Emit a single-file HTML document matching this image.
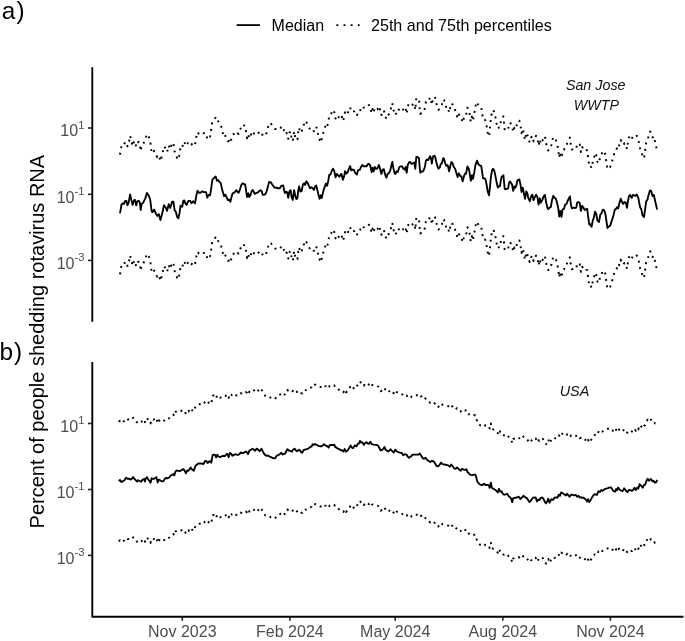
<!DOCTYPE html>
<html lang="en"><head><meta charset="utf-8"><title>Percent of people shedding rotavirus RNA</title>
<style>
html,body{margin:0;padding:0;background:#fff;}
body{width:685px;height:641px;overflow:hidden;}
svg{display:block;font-family:"Liberation Sans", Arial, Helvetica, sans-serif;}
.med{fill:none;stroke:#000;stroke-width:1.85;stroke-linejoin:round;stroke-linecap:butt;}
.pct{fill:none;stroke:#000;stroke-width:1.95;stroke-linejoin:round;stroke-linecap:butt;}
</style></head><body>
<svg width="685" height="641" viewBox="0 0 685 641">
<rect width="685" height="641" fill="#fff"/>
<!-- panel tags -->
<text x="1.8" y="19.1" font-size="24.4" fill="#000">a<tspan dx="1.2">)</tspan></text>
<text x="-0.5" y="359.8" font-size="24.4" fill="#000">b<tspan dx="0.8">)</tspan></text>
<!-- legend -->
<line x1="236.7" y1="25.1" x2="259.9" y2="25.1" stroke="#000" stroke-width="1.8"/>
<text x="271.6" y="30.8" font-size="16" fill="#000">Median</text>
<line x1="336.4" y1="25.1" x2="359.6" y2="25.1" stroke="#000" stroke-width="1.95" stroke-dasharray="1.9 5.25"/>
<text x="371" y="30.8" font-size="16.1" fill="#000">25th and 75th percentiles</text>
<!-- y label -->
<text transform="translate(44.3,528.4) rotate(-90)" font-size="20" fill="#000">Percent of people shedding rotavirus RNA</text>
<!-- panel a axes -->
<line x1="92.3" y1="67.2" x2="92.3" y2="321.8" stroke="#000" stroke-width="1.85"/>
<line x1="88" y1="128.0" x2="92.3" y2="128.0" stroke="#222" stroke-width="1.6"/>
<text x="84.4" y="136.4" text-anchor="end" font-size="16" fill="#4d4d4d">10<tspan font-size="11.2" dy="-7.9">1</tspan></text>
<line x1="88" y1="194.3" x2="92.3" y2="194.3" stroke="#222" stroke-width="1.6"/>
<text x="84.4" y="202.7" text-anchor="end" font-size="16" fill="#4d4d4d">10<tspan font-size="11.2" dy="-7.9">-1</tspan></text>
<line x1="88" y1="260.4" x2="92.3" y2="260.4" stroke="#222" stroke-width="1.6"/>
<text x="84.4" y="268.8" text-anchor="end" font-size="16" fill="#4d4d4d">10<tspan font-size="11.2" dy="-7.9">-3</tspan></text>

<text x="595.7" y="89.8" text-anchor="middle" font-size="14.3" font-style="italic" fill="#111">San Jose</text>
<text x="596.3" y="110.4" text-anchor="middle" font-size="14.3" font-style="italic" fill="#111">WWTP</text>
<path class="pct" stroke-dasharray="1.9 4.6" d="M120.0,154.6 L121.5,145.8 L123.2,144.5 L124.0,145.1 L125.0,142.4 L126.3,142.0 L127.5,146.4 L128.6,143.9 L130.1,135.7 L131.3,140.8 L132.6,146.1 L134.1,141.4 L135.1,141.1 L136.1,146.6 L137.3,142.6 L138.8,142.0 L139.9,143.9 L140.7,151.2 L141.6,145.4 L143.2,143.9 L145.1,140.1 L147.0,134.1 L148.7,136.6 L150.2,140.8 L151.7,152.9 L152.7,153.3 L154.2,150.8 L155.8,154.6 L157.4,157.1 L158.9,155.4 L160.4,161.2 L162.1,155.2 L164.0,146.4 L165.8,148.9 L167.1,152.1 L168.7,145.4 L170.2,149.2 L172.1,142.9 L173.4,142.9 L174.6,151.4 L175.9,153.3 L177.2,158.3 L178.4,159.6 L179.7,153.3 L180.5,147.0 L182.2,147.9 L183.4,142.0 L184.3,141.6 L185.3,144.5 L186.6,146.1 L188.4,142.0 L190.1,142.0 L191.6,144.5 L193.1,142.4 L195.0,144.6 L196.3,137.0 L197.5,132.0 L199.0,133.9 L200.7,133.9 L202.3,132.4 L203.8,133.3 L206.1,133.3 L207.3,138.9 L208.6,136.1 L210.1,136.6 L211.3,128.9 L212.3,121.3 L213.8,119.1 L215.7,117.8 L217.0,122.0 L218.2,121.3 L219.5,123.2 L220.7,124.1 L222.0,130.1 L223.2,134.5 L224.1,137.4 L225.4,135.8 L226.6,138.3 L227.9,141.2 L229.2,140.8 L230.4,142.9 L231.7,137.6 L232.7,134.5 L234.6,133.6 L236.4,131.4 L237.7,133.3 L238.7,133.9 L239.9,130.8 L241.2,126.4 L242.5,124.5 L244.0,125.4 L245.2,125.7 L246.2,132.6 L247.1,138.3 L248.4,134.5 L249.2,138.3 L250.5,136.4 L251.5,132.6 L252.8,131.1 L253.8,133.3 L254.6,135.1 L256.5,134.1 L258.0,133.6 L259.3,132.0 L260.9,131.4 L261.8,132.6 L262.8,136.1 L264.7,135.8 L265.9,134.5 L267.2,130.8 L268.1,127.0 L269.1,123.2 L271.0,123.6 L272.2,125.7 L273.8,127.9 L275.0,128.9 L276.9,128.9 L278.1,129.5 L279.8,129.5 L281.3,127.0 L283.2,126.6 L284.0,130.8 L284.8,134.2 L286.3,132.9 L287.3,133.7 L288.2,138.9 L289.4,132.7 L290.7,131.4 L291.6,138.3 L292.8,141.2 L294.1,131.4 L295.1,136.4 L296.3,140.2 L297.4,139.6 L298.2,132.1 L299.1,127.6 L300.4,132.7 L301.6,132.4 L302.9,125.8 L304.1,124.5 L305.1,126.1 L306.4,122.4 L307.9,124.5 L309.1,127.6 L310.1,129.5 L311.4,128.3 L312.7,129.5 L313.9,131.2 L315.2,127.6 L316.2,126.6 L317.1,130.2 L318.3,135.2 L319.6,140.0 L320.8,136.4 L321.7,139.2 L322.7,135.2 L323.7,130.8 L324.6,128.3 L325.9,124.9 L327.1,127.0 L328.4,121.4 L329.2,116.1 L330.5,115.7 L331.8,112.0 L333.0,109.8 L334.3,112.3 L335.5,118.6 L336.8,115.1 L338.0,116.4 L339.3,117.9 L340.5,116.1 L341.5,115.1 L342.8,121.1 L344.1,117.6 L345.1,112.3 L346.3,114.9 L347.6,113.6 L348.8,110.3 L350.1,107.3 L351.3,111.6 L352.8,110.7 L354.1,111.3 L355.0,113.9 L356.9,115.8 L358.1,111.4 L359.8,111.1 L361.0,108.2 L362.3,106.1 L363.5,107.6 L365.0,107.4 L366.6,107.6 L367.8,105.4 L369.1,105.1 L370.3,107.0 L371.6,113.3 L372.6,108.9 L373.6,112.6 L374.8,108.2 L376.1,110.1 L377.4,109.5 L378.9,106.1 L380.1,110.1 L381.4,115.1 L382.6,110.8 L383.9,110.4 L385.1,115.8 L386.4,118.9 L387.6,115.1 L389.1,114.1 L390.4,111.1 L391.4,106.4 L392.3,103.2 L393.3,108.9 L394.6,114.5 L395.4,115.1 L396.4,112.6 L397.7,113.3 L399.2,108.6 L400.4,107.6 L402.1,107.6 L403.3,109.9 L404.6,110.8 L405.6,108.2 L406.7,113.9 L407.7,106.4 L409.0,103.6 L410.2,103.2 L411.5,105.1 L413.0,104.5 L414.3,103.6 L415.3,110.1 L416.3,98.2 L417.5,98.2 L419.0,99.5 L419.7,108.9 L420.3,113.9 L421.8,112.6 L423.1,112.6 L424.7,108.9 L425.9,102.0 L426.8,100.7 L428.1,101.3 L429.1,99.5 L430.1,97.3 L431.0,99.5 L431.8,104.9 L433.1,97.6 L434.4,96.9 L435.0,97.5 L436.3,103.2 L437.5,107.6 L438.5,109.9 L439.8,108.6 L440.6,105.7 L441.9,104.5 L443.2,99.4 L444.0,100.0 L445.0,103.8 L446.1,107.0 L447.6,106.3 L448.2,108.2 L449.1,112.6 L450.1,108.2 L451.3,103.2 L452.6,104.5 L453.8,108.2 L455.1,109.9 L456.3,113.9 L457.6,118.3 L458.9,114.5 L460.1,117.0 L461.4,117.6 L462.6,122.6 L463.9,117.6 L464.9,114.9 L466.1,114.9 L467.4,107.6 L468.6,109.5 L469.5,113.2 L470.8,122.0 L472.0,116.4 L473.0,120.1 L474.2,113.9 L475.4,106.3 L477.1,101.9 L478.3,105.3 L479.6,106.6 L481.2,107.0 L482.1,112.6 L483.0,119.5 L484.6,119.5 L485.6,120.8 L486.7,126.4 L487.7,132.7 L489.0,136.5 L490.0,127.7 L490.9,118.3 L492.1,111.4 L493.0,109.9 L494.3,112.0 L495.5,117.6 L496.8,124.5 L497.8,128.7 L499.0,127.4 L500.0,127.4 L500.9,121.4 L501.5,118.3 L503.4,116.4 L504.1,123.9 L504.7,130.2 L506.6,130.2 L508.1,129.6 L509.1,123.9 L510.1,122.6 L511.3,124.5 L512.2,126.2 L513.1,132.1 L514.4,127.7 L515.0,129.1 L516.3,127.0 L517.5,121.3 L519.4,120.7 L520.6,126.3 L521.5,133.2 L522.8,128.8 L523.8,133.9 L525.0,140.1 L526.3,132.6 L527.3,134.5 L528.2,138.9 L529.8,142.4 L531.1,137.6 L532.3,135.8 L533.6,141.4 L534.8,138.3 L536.1,135.8 L537.4,138.3 L538.6,145.8 L539.9,139.5 L540.7,143.9 L542.4,140.8 L543.6,137.6 L544.9,136.1 L546.1,143.3 L547.4,148.9 L548.3,150.4 L549.5,148.9 L550.8,148.3 L552.0,141.4 L553.3,137.0 L554.5,138.9 L555.8,139.9 L557.1,143.9 L558.3,149.6 L559.2,157.7 L560.2,152.1 L561.5,158.0 L562.5,150.8 L564.0,149.9 L565.2,145.8 L566.5,145.2 L567.7,142.0 L569.0,139.5 L570.0,137.6 L570.9,145.8 L571.8,149.6 L573.4,148.9 L574.6,149.2 L576.3,148.9 L577.1,143.9 L578.4,143.3 L579.7,144.2 L580.9,152.1 L582.2,147.1 L583.4,148.7 L584.7,151.2 L585.9,150.4 L587.2,150.2 L588.1,157.7 L589.3,165.9 L590.3,165.2 L591.6,168.0 L592.8,161.5 L593.8,159.0 L595.0,152.9 L596.3,155.2 L597.5,162.1 L599.0,163.3 L600.3,155.8 L601.5,154.5 L602.8,150.8 L604.0,151.4 L605.3,154.5 L606.3,161.4 L607.5,169.2 L608.8,167.7 L610.1,167.1 L611.3,163.3 L612.6,159.6 L613.8,155.2 L614.8,150.8 L616.1,150.1 L617.0,148.3 L618.2,149.5 L619.5,143.9 L620.7,139.9 L622.0,143.2 L623.2,145.1 L624.5,143.2 L625.8,143.9 L627.0,149.1 L627.9,142.6 L628.9,137.6 L630.1,136.1 L631.7,139.1 L632.9,136.1 L634.2,136.6 L635.4,137.0 L636.7,135.7 L638.3,138.8 L639.2,143.9 L640.2,148.9 L641.2,149.9 L642.5,156.4 L644.0,158.3 L645.0,151.4 L646.2,142.6 L647.5,140.7 L648.7,135.7 L650.0,131.6 L651.2,132.3 L652.5,137.3 L653.8,136.1 L655.0,141.4 L657.1,150.8"/>
<path class="med" d="M120.0,213.4 L121.5,204.6 L123.2,203.3 L124.0,203.9 L125.0,201.2 L126.3,200.8 L127.5,205.2 L128.6,202.7 L130.1,194.5 L131.3,199.6 L132.6,204.9 L134.1,200.2 L135.1,199.9 L136.1,205.4 L137.3,201.4 L138.8,200.8 L139.9,202.7 L140.7,210.0 L141.6,204.2 L143.2,202.7 L145.1,198.9 L147.0,192.9 L148.7,195.4 L150.2,199.6 L151.7,211.7 L152.7,212.1 L154.2,209.6 L155.8,213.4 L157.4,215.9 L158.9,214.2 L160.4,220.0 L162.1,214.0 L164.0,205.2 L165.8,207.7 L167.1,210.8 L168.7,204.2 L170.2,208.0 L172.1,201.7 L173.4,201.7 L174.6,210.2 L175.9,212.1 L177.2,217.1 L178.4,218.4 L179.7,212.1 L180.5,205.8 L182.2,206.7 L183.4,200.8 L184.3,200.4 L185.3,203.3 L186.6,204.9 L188.4,200.8 L190.1,200.8 L191.6,203.3 L193.1,201.2 L195.0,203.4 L196.3,195.8 L197.5,190.8 L199.0,192.7 L200.7,192.7 L202.3,191.2 L203.8,192.1 L206.1,192.1 L207.3,197.7 L208.6,194.9 L210.1,195.4 L211.3,187.7 L212.3,180.1 L213.8,177.9 L215.7,176.6 L217.0,180.8 L218.2,180.1 L219.5,182.0 L220.7,182.9 L222.0,188.9 L223.2,193.3 L224.1,196.2 L225.4,194.6 L226.6,197.1 L227.9,200.0 L229.2,199.6 L230.4,201.7 L231.7,196.4 L232.7,193.3 L234.6,192.4 L236.4,190.2 L237.7,192.1 L238.7,192.7 L239.9,189.6 L241.2,185.2 L242.5,183.3 L244.0,184.2 L245.2,184.5 L246.2,191.4 L247.1,197.1 L248.4,193.3 L249.2,197.1 L250.5,195.2 L251.5,191.4 L252.8,189.9 L253.8,192.1 L254.6,193.9 L256.5,192.9 L258.0,192.4 L259.3,190.8 L260.9,190.2 L261.8,191.4 L262.8,194.9 L264.7,194.6 L265.9,193.3 L267.2,189.6 L268.1,185.8 L269.1,182.0 L271.0,182.4 L272.2,184.5 L273.8,186.7 L275.0,187.7 L276.9,187.7 L278.1,188.3 L279.8,188.3 L281.3,185.8 L283.2,185.4 L284.0,189.6 L284.8,193.0 L286.3,191.7 L287.3,192.5 L288.2,197.8 L289.4,191.5 L290.7,190.2 L291.6,197.1 L292.8,200.0 L294.1,190.2 L295.1,195.2 L296.3,199.0 L297.4,198.4 L298.2,190.8 L299.1,186.4 L300.4,191.5 L301.6,191.2 L302.9,184.6 L304.1,183.3 L305.1,184.9 L306.4,181.2 L307.9,183.3 L309.1,186.4 L310.1,188.3 L311.4,187.1 L312.7,188.3 L313.9,190.0 L315.2,186.4 L316.2,185.4 L317.1,189.0 L318.3,194.0 L319.6,198.8 L320.8,195.2 L321.7,198.0 L322.7,194.0 L323.7,189.6 L324.6,187.1 L325.9,183.7 L327.1,185.8 L328.4,180.2 L329.2,174.9 L330.5,174.5 L331.8,170.8 L333.0,168.6 L334.3,171.1 L335.5,177.4 L336.8,173.9 L338.0,175.2 L339.3,176.7 L340.5,174.9 L341.5,173.9 L342.8,179.9 L344.1,176.4 L345.1,171.1 L346.3,173.7 L347.6,172.4 L348.8,169.1 L350.1,166.1 L351.3,170.4 L352.8,169.5 L354.1,170.1 L355.0,172.7 L356.9,174.6 L358.1,170.2 L359.8,169.9 L361.0,167.0 L362.3,164.9 L363.5,166.4 L365.0,166.2 L366.6,166.4 L367.8,164.2 L369.1,163.9 L370.3,165.8 L371.6,172.1 L372.6,167.7 L373.6,171.4 L374.8,167.0 L376.1,168.9 L377.4,168.3 L378.9,164.9 L380.1,168.9 L381.4,173.9 L382.6,169.6 L383.9,169.2 L385.1,174.6 L386.4,177.7 L387.6,173.9 L389.1,172.9 L390.4,169.9 L391.4,165.2 L392.3,162.0 L393.3,167.7 L394.6,173.3 L395.4,173.9 L396.4,171.4 L397.7,172.1 L399.2,167.4 L400.4,166.4 L402.1,166.4 L403.3,168.7 L404.6,169.6 L405.6,167.0 L406.7,172.7 L407.7,165.2 L409.0,162.4 L410.2,162.0 L411.5,163.9 L413.0,163.3 L414.3,162.4 L415.3,168.9 L416.3,157.0 L417.5,157.0 L419.0,158.2 L419.7,167.7 L420.3,172.7 L421.8,171.4 L423.1,171.4 L424.7,167.7 L425.9,160.8 L426.8,159.5 L428.1,160.1 L429.1,158.2 L430.1,156.1 L431.0,158.2 L431.8,163.7 L433.1,156.4 L434.4,155.7 L435.0,156.3 L436.3,162.0 L437.5,166.4 L438.5,168.7 L439.8,167.4 L440.6,164.5 L441.9,163.2 L443.2,158.2 L444.0,158.8 L445.0,162.6 L446.1,165.8 L447.6,165.1 L448.2,167.0 L449.1,171.4 L450.1,167.0 L451.3,162.0 L452.6,163.2 L453.8,167.0 L455.1,168.7 L456.3,172.7 L457.6,177.1 L458.9,173.3 L460.1,175.8 L461.4,176.4 L462.6,181.4 L463.9,176.4 L464.9,173.7 L466.1,173.7 L467.4,166.4 L468.6,168.3 L469.5,172.0 L470.8,180.8 L472.0,175.2 L473.0,178.9 L474.2,172.7 L475.4,165.1 L477.1,160.7 L478.3,164.1 L479.6,165.4 L481.2,165.8 L482.1,171.4 L483.0,178.3 L484.6,178.3 L485.6,179.6 L486.7,185.2 L487.7,191.5 L489.0,195.3 L490.0,186.5 L490.9,177.1 L492.1,170.2 L493.0,168.7 L494.3,170.8 L495.5,176.4 L496.8,183.3 L497.8,187.5 L499.0,186.2 L500.0,186.2 L500.9,180.2 L501.5,177.1 L503.4,175.2 L504.1,182.7 L504.7,189.0 L506.6,189.0 L508.1,188.4 L509.1,182.7 L510.1,181.4 L511.3,183.3 L512.2,185.0 L513.1,190.9 L514.4,186.5 L515.0,187.9 L516.3,185.8 L517.5,180.1 L519.4,179.5 L520.6,185.1 L521.5,192.0 L522.8,187.6 L523.8,192.7 L525.0,198.9 L526.3,191.4 L527.3,193.3 L528.2,197.7 L529.8,201.2 L531.1,196.4 L532.3,194.6 L533.6,200.2 L534.8,197.1 L536.1,194.6 L537.4,197.1 L538.6,204.6 L539.9,198.3 L540.7,202.7 L542.4,199.6 L543.6,196.4 L544.9,194.9 L546.1,202.1 L547.4,207.7 L548.3,209.2 L549.5,207.7 L550.8,207.1 L552.0,200.2 L553.3,195.8 L554.5,197.7 L555.8,198.7 L557.1,202.7 L558.3,208.4 L559.2,216.5 L560.2,210.9 L561.5,216.8 L562.5,209.6 L564.0,208.7 L565.2,204.6 L566.5,204.0 L567.7,200.8 L569.0,198.3 L570.0,196.4 L570.9,204.6 L571.8,208.4 L573.4,207.7 L574.6,208.0 L576.3,207.7 L577.1,202.7 L578.4,202.1 L579.7,203.0 L580.9,210.9 L582.2,205.8 L583.4,207.5 L584.7,210.0 L585.9,209.2 L587.2,209.0 L588.1,216.5 L589.3,224.7 L590.3,224.1 L591.6,226.8 L592.8,220.3 L593.8,217.8 L595.0,211.7 L596.3,214.0 L597.5,220.9 L599.0,222.1 L600.3,214.6 L601.5,213.3 L602.8,209.6 L604.0,210.2 L605.3,213.3 L606.3,220.2 L607.5,228.0 L608.8,226.5 L610.1,225.9 L611.3,222.1 L612.6,218.4 L613.8,214.0 L614.8,209.6 L616.1,208.9 L617.0,207.1 L618.2,208.3 L619.5,202.7 L620.7,198.7 L622.0,202.0 L623.2,203.9 L624.5,202.0 L625.8,202.7 L627.0,207.9 L627.9,201.4 L628.9,196.4 L630.1,194.9 L631.7,197.9 L632.9,194.9 L634.2,195.4 L635.4,195.8 L636.7,194.5 L638.3,197.6 L639.2,202.7 L640.2,207.7 L641.2,208.7 L642.5,215.2 L644.0,217.1 L645.0,210.2 L646.2,201.4 L647.5,199.5 L648.7,194.5 L650.0,190.4 L651.2,191.1 L652.5,196.1 L653.8,194.9 L655.0,200.2 L657.1,209.6"/>
<path class="pct" stroke-dasharray="1.9 4.6" d="M120.0,274.3 L121.5,265.5 L123.2,264.2 L124.0,264.8 L125.0,262.1 L126.3,261.7 L127.5,266.1 L128.6,263.6 L130.1,255.4 L131.3,260.4 L132.6,265.8 L134.1,261.1 L135.1,260.8 L136.1,266.3 L137.3,262.3 L138.8,261.7 L139.9,263.6 L140.7,270.9 L141.6,265.1 L143.2,263.6 L145.1,259.8 L147.0,253.8 L148.7,256.3 L150.2,260.4 L151.7,272.6 L152.7,273.0 L154.2,270.5 L155.8,274.3 L157.4,276.8 L158.9,275.1 L160.4,280.9 L162.1,274.9 L164.0,266.1 L165.8,268.6 L167.1,271.8 L168.7,265.1 L170.2,268.9 L172.1,262.6 L173.4,262.6 L174.6,271.1 L175.9,273.0 L177.2,278.0 L178.4,279.3 L179.7,273.0 L180.5,266.7 L182.2,267.6 L183.4,261.7 L184.3,261.3 L185.3,264.2 L186.6,265.8 L188.4,261.7 L190.1,261.7 L191.6,264.2 L193.1,262.1 L195.0,264.3 L196.3,256.7 L197.5,251.7 L199.0,253.6 L200.7,253.6 L202.3,252.1 L203.8,253.0 L206.1,253.0 L207.3,258.6 L208.6,255.8 L210.1,256.3 L211.3,248.6 L212.3,241.0 L213.8,238.8 L215.7,237.5 L217.0,241.7 L218.2,241.0 L219.5,242.9 L220.7,243.8 L222.0,249.8 L223.2,254.2 L224.1,257.1 L225.4,255.5 L226.6,258.0 L227.9,260.9 L229.2,260.5 L230.4,262.6 L231.7,257.3 L232.7,254.2 L234.6,253.3 L236.4,251.1 L237.7,253.0 L238.7,253.6 L239.9,250.5 L241.2,246.1 L242.5,244.2 L244.0,245.1 L245.2,245.4 L246.2,252.3 L247.1,258.0 L248.4,254.2 L249.2,258.0 L250.5,256.1 L251.5,252.3 L252.8,250.8 L253.8,253.0 L254.6,254.8 L256.5,253.8 L258.0,253.3 L259.3,251.7 L260.9,251.1 L261.8,252.3 L262.8,255.8 L264.7,255.5 L265.9,254.2 L267.2,250.5 L268.1,246.7 L269.1,242.9 L271.0,243.3 L272.2,245.4 L273.8,247.6 L275.0,248.6 L276.9,248.6 L278.1,249.2 L279.8,249.2 L281.3,246.7 L283.2,246.3 L284.0,250.5 L284.8,253.9 L286.3,252.6 L287.3,253.4 L288.2,258.6 L289.4,252.4 L290.7,251.1 L291.6,258.0 L292.8,260.9 L294.1,251.1 L295.1,256.1 L296.3,259.9 L297.4,259.3 L298.2,251.8 L299.1,247.3 L300.4,252.4 L301.6,252.1 L302.9,245.5 L304.1,244.2 L305.1,245.8 L306.4,242.1 L307.9,244.2 L309.1,247.3 L310.1,249.2 L311.4,248.0 L312.7,249.2 L313.9,250.9 L315.2,247.3 L316.2,246.3 L317.1,249.9 L318.3,254.9 L319.6,259.7 L320.8,256.1 L321.7,258.9 L322.7,254.9 L323.7,250.5 L324.6,248.0 L325.9,244.6 L327.1,246.7 L328.4,241.1 L329.2,235.8 L330.5,235.4 L331.8,231.7 L333.0,229.5 L334.3,232.0 L335.5,238.3 L336.8,234.8 L338.0,236.1 L339.3,237.6 L340.5,235.8 L341.5,234.8 L342.8,240.8 L344.1,237.3 L345.1,232.0 L346.3,234.6 L347.6,233.3 L348.8,230.0 L350.1,227.0 L351.3,231.3 L352.8,230.4 L354.1,231.0 L355.0,233.6 L356.9,235.5 L358.1,231.1 L359.8,230.8 L361.0,227.9 L362.3,225.8 L363.5,227.3 L365.0,227.1 L366.6,227.3 L367.8,225.1 L369.1,224.8 L370.3,226.7 L371.6,233.0 L372.6,228.6 L373.6,232.3 L374.8,227.9 L376.1,229.8 L377.4,229.2 L378.9,225.8 L380.1,229.8 L381.4,234.8 L382.6,230.5 L383.9,230.1 L385.1,235.5 L386.4,238.6 L387.6,234.8 L389.1,233.8 L390.4,230.8 L391.4,226.1 L392.3,222.9 L393.3,228.6 L394.6,234.2 L395.4,234.8 L396.4,232.3 L397.7,233.0 L399.2,228.3 L400.4,227.3 L402.1,227.3 L403.3,229.6 L404.6,230.5 L405.6,227.9 L406.7,233.6 L407.7,226.1 L409.0,223.3 L410.2,222.9 L411.5,224.8 L413.0,224.2 L414.3,223.3 L415.3,229.8 L416.3,217.9 L417.5,217.9 L419.0,219.2 L419.7,228.6 L420.3,233.6 L421.8,232.3 L423.1,232.3 L424.7,228.6 L425.9,221.7 L426.8,220.4 L428.1,221.0 L429.1,219.2 L430.1,217.0 L431.0,219.2 L431.8,224.6 L433.1,217.3 L434.4,216.6 L435.0,217.2 L436.3,222.9 L437.5,227.3 L438.5,229.6 L439.8,228.3 L440.6,225.4 L441.9,224.2 L443.2,219.1 L444.0,219.8 L445.0,223.5 L446.1,226.7 L447.6,226.0 L448.2,227.9 L449.1,232.3 L450.1,227.9 L451.3,222.9 L452.6,224.2 L453.8,227.9 L455.1,229.6 L456.3,233.6 L457.6,238.0 L458.9,234.2 L460.1,236.7 L461.4,237.3 L462.6,242.3 L463.9,237.3 L464.9,234.6 L466.1,234.6 L467.4,227.3 L468.6,229.2 L469.5,232.9 L470.8,241.7 L472.0,236.1 L473.0,239.8 L474.2,233.6 L475.4,226.0 L477.1,221.6 L478.3,225.0 L479.6,226.3 L481.2,226.7 L482.1,232.3 L483.0,239.2 L484.6,239.2 L485.6,240.5 L486.7,246.1 L487.7,252.4 L489.0,256.2 L490.0,247.4 L490.9,238.0 L492.1,231.1 L493.0,229.6 L494.3,231.7 L495.5,237.3 L496.8,244.2 L497.8,248.4 L499.0,247.1 L500.0,247.1 L500.9,241.1 L501.5,238.0 L503.4,236.1 L504.1,243.6 L504.7,249.9 L506.6,249.9 L508.1,249.3 L509.1,243.6 L510.1,242.3 L511.3,244.2 L512.2,245.9 L513.1,251.8 L514.4,247.4 L515.0,248.8 L516.3,246.7 L517.5,241.0 L519.4,240.4 L520.6,246.0 L521.5,252.9 L522.8,248.5 L523.8,253.6 L525.0,259.8 L526.3,252.3 L527.3,254.2 L528.2,258.6 L529.8,262.1 L531.1,257.3 L532.3,255.5 L533.6,261.1 L534.8,258.0 L536.1,255.5 L537.4,258.0 L538.6,265.5 L539.9,259.2 L540.7,263.6 L542.4,260.5 L543.6,257.3 L544.9,255.8 L546.1,263.0 L547.4,268.6 L548.3,270.1 L549.5,268.6 L550.8,268.0 L552.0,261.1 L553.3,256.7 L554.5,258.6 L555.8,259.6 L557.1,263.6 L558.3,269.3 L559.2,277.4 L560.2,271.8 L561.5,277.7 L562.5,270.5 L564.0,269.6 L565.2,265.5 L566.5,264.9 L567.7,261.7 L569.0,259.2 L570.0,257.3 L570.9,265.5 L571.8,269.3 L573.4,268.6 L574.6,268.9 L576.3,268.6 L577.1,263.6 L578.4,263.0 L579.7,263.9 L580.9,271.8 L582.2,266.8 L583.4,268.4 L584.7,270.9 L585.9,270.1 L587.2,269.9 L588.1,277.4 L589.3,285.6 L590.3,284.9 L591.6,287.7 L592.8,281.2 L593.8,278.7 L595.0,272.6 L596.3,274.9 L597.5,281.8 L599.0,283.0 L600.3,275.5 L601.5,274.2 L602.8,270.5 L604.0,271.1 L605.3,274.2 L606.3,281.1 L607.5,288.9 L608.8,287.4 L610.1,286.8 L611.3,283.0 L612.6,279.3 L613.8,274.9 L614.8,270.5 L616.1,269.8 L617.0,268.0 L618.2,269.2 L619.5,263.6 L620.7,259.6 L622.0,262.9 L623.2,264.8 L624.5,262.9 L625.8,263.6 L627.0,268.8 L627.9,262.3 L628.9,257.3 L630.1,255.8 L631.7,258.8 L632.9,255.8 L634.2,256.3 L635.4,256.7 L636.7,255.4 L638.3,258.5 L639.2,263.6 L640.2,268.6 L641.2,269.6 L642.5,276.1 L644.0,278.0 L645.0,271.1 L646.2,262.3 L647.5,260.4 L648.7,255.4 L650.0,251.3 L651.2,252.0 L652.5,257.0 L653.8,255.8 L655.0,261.1 L657.1,270.5"/>
<!-- panel b axes -->
<polyline points="92.3,362.1 92.3,616.75 683.5,616.75" fill="none" stroke="#000" stroke-width="1.9" stroke-linejoin="round"/>
<line x1="88" y1="423.5" x2="92.3" y2="423.5" stroke="#222" stroke-width="1.6"/>
<text x="84.4" y="431.9" text-anchor="end" font-size="16" fill="#4d4d4d">10<tspan font-size="11.2" dy="-7.9">1</tspan></text>
<line x1="88" y1="489.5" x2="92.3" y2="489.5" stroke="#222" stroke-width="1.6"/>
<text x="84.4" y="497.9" text-anchor="end" font-size="16" fill="#4d4d4d">10<tspan font-size="11.2" dy="-7.9">-1</tspan></text>
<line x1="88" y1="555.4" x2="92.3" y2="555.4" stroke="#222" stroke-width="1.6"/>
<text x="84.4" y="563.8" text-anchor="end" font-size="16" fill="#4d4d4d">10<tspan font-size="11.2" dy="-7.9">-3</tspan></text>

<line x1="182.3" y1="616.7" x2="182.3" y2="620.8" stroke="#222" stroke-width="1.6"/>
<text x="182.3" y="636.5" text-anchor="middle" font-size="16" fill="#4d4d4d">Nov 2023</text>
<line x1="289.9" y1="616.7" x2="289.9" y2="620.8" stroke="#222" stroke-width="1.6"/>
<text x="289.9" y="636.5" text-anchor="middle" font-size="16" fill="#4d4d4d">Feb 2024</text>
<line x1="395.2" y1="616.7" x2="395.2" y2="620.8" stroke="#222" stroke-width="1.6"/>
<text x="395.2" y="636.5" text-anchor="middle" font-size="16" fill="#4d4d4d">May 2024</text>
<line x1="502.8" y1="616.7" x2="502.8" y2="620.8" stroke="#222" stroke-width="1.6"/>
<text x="502.8" y="636.5" text-anchor="middle" font-size="16" fill="#4d4d4d">Aug 2024</text>
<line x1="610.4" y1="616.7" x2="610.4" y2="620.8" stroke="#222" stroke-width="1.6"/>
<text x="610.4" y="636.5" text-anchor="middle" font-size="16" fill="#4d4d4d">Nov 2024</text>

<text x="574.5" y="395.5" text-anchor="middle" font-size="14.4" font-style="italic" fill="#111">USA</text>
<path class="pct" stroke-dasharray="1.9 4.2" d="M118.8,421.9 L120.0,420.7 L121.5,422.8 L122.8,421.9 L124.4,420.9 L126.0,418.4 L127.5,419.4 L129.1,419.4 L130.7,420.3 L131.9,419.4 L133.2,417.8 L134.5,419.7 L135.7,420.9 L137.0,422.2 L138.2,420.9 L139.5,421.6 L141.1,422.4 L142.6,420.3 L144.1,419.7 L144.9,422.2 L145.8,419.0 L147.0,417.8 L148.3,420.3 L149.5,421.6 L150.5,423.4 L151.7,419.0 L153.3,419.7 L154.9,419.0 L156.4,417.8 L157.7,423.2 L158.9,420.3 L160.4,421.2 L162.1,422.2 L163.7,421.6 L165.0,419.0 L166.5,418.7 L167.7,419.0 L169.2,418.2 L170.9,416.1 L172.1,415.6 L173.4,414.6 L174.3,416.1 L175.5,412.1 L176.8,411.1 L178.4,411.5 L179.7,411.9 L181.3,410.9 L183.4,409.9 L184.7,411.5 L185.9,414.0 L187.2,411.1 L188.4,411.5 L189.7,409.6 L190.6,408.1 L191.8,409.9 L193.8,411.5 L195.0,407.8 L196.3,405.7 L198.1,404.4 L200.0,404.1 L201.9,404.4 L203.5,404.7 L205.0,401.9 L206.3,401.6 L207.6,403.7 L209.1,402.2 L210.3,401.9 L211.3,403.4 L212.6,395.9 L214.1,395.3 L215.1,395.6 L216.1,398.2 L217.3,395.3 L218.6,397.4 L220.1,397.8 L221.6,397.1 L223.2,396.5 L224.9,396.9 L226.4,394.9 L227.4,394.6 L228.7,397.8 L229.9,393.6 L231.2,394.4 L232.4,396.5 L233.9,395.6 L235.2,394.9 L237.1,395.6 L238.9,395.3 L240.8,393.1 L242.1,394.0 L244.0,393.4 L245.8,392.1 L247.1,393.1 L248.0,394.9 L249.6,391.1 L251.2,390.2 L252.5,389.4 L253.8,390.2 L255.0,391.5 L256.5,389.4 L257.5,389.9 L258.8,390.9 L259.7,391.9 L261.5,389.4 L262.8,392.1 L264.1,394.4 L265.3,395.9 L266.6,396.5 L267.8,396.1 L269.3,397.1 L271.0,397.8 L272.6,398.7 L274.1,399.0 L275.0,399.1 L276.5,396.6 L278.1,395.9 L279.8,394.9 L281.3,393.4 L282.5,395.3 L283.8,394.7 L285.0,394.4 L286.3,391.9 L287.3,389.9 L288.8,391.2 L290.3,391.6 L291.9,392.4 L293.2,390.3 L294.5,389.4 L295.7,390.9 L297.0,391.9 L298.6,390.7 L300.1,391.2 L301.4,393.2 L302.4,393.4 L303.6,390.7 L305.1,390.3 L306.6,389.9 L308.3,389.4 L309.9,387.8 L311.4,387.4 L312.7,384.9 L313.9,385.6 L315.2,384.6 L316.7,385.6 L318.3,386.5 L319.9,386.9 L321.7,386.9 L323.0,385.9 L324.0,384.9 L325.2,386.1 L326.7,386.5 L327.7,387.4 L328.7,388.4 L329.6,385.9 L331.2,385.6 L332.8,385.9 L334.3,385.3 L335.3,387.8 L336.5,388.2 L337.8,389.4 L339.3,389.9 L340.5,390.7 L342.2,391.2 L343.4,392.4 L344.7,389.7 L345.9,392.4 L347.6,391.2 L349.1,389.0 L350.6,386.1 L351.8,388.2 L353.1,389.0 L354.7,386.1 L356.5,387.1 L357.8,384.6 L359.0,384.0 L360.0,381.5 L361.3,383.4 L362.5,383.1 L363.8,385.6 L365.0,384.0 L366.3,382.8 L367.6,384.0 L368.8,384.6 L370.3,382.4 L371.9,384.9 L373.6,385.3 L375.1,385.6 L376.6,385.6 L378.2,386.5 L379.5,389.0 L380.7,391.2 L382.4,390.3 L383.6,389.0 L384.5,387.8 L385.8,390.9 L387.0,391.2 L388.6,392.2 L390.4,389.9 L392.0,391.6 L393.7,393.2 L395.2,390.3 L396.4,391.9 L398.3,392.8 L399.9,393.4 L401.7,393.7 L403.3,395.9 L404.6,394.9 L406.5,395.3 L407.7,397.2 L409.0,398.4 L410.9,397.2 L412.8,395.3 L414.6,395.3 L416.5,395.3 L418.4,395.3 L419.7,394.1 L420.9,395.9 L422.8,399.1 L424.1,399.5 L425.6,398.4 L427.2,400.7 L429.1,402.0 L430.3,402.8 L431.8,401.6 L433.8,402.2 L435.0,404.0 L436.3,406.5 L438.1,407.1 L439.8,405.2 L441.0,403.3 L442.5,404.8 L444.4,405.2 L446.3,405.6 L448.2,406.1 L449.8,407.4 L451.3,405.2 L452.6,406.9 L454.1,409.0 L455.7,409.6 L457.0,408.1 L458.6,409.6 L459.9,410.6 L460.7,411.5 L462.0,409.4 L463.6,410.2 L465.1,410.6 L466.4,409.9 L467.6,412.8 L469.1,414.4 L470.8,415.6 L472.4,415.9 L473.9,415.3 L475.4,415.3 L476.4,418.4 L477.1,421.6 L478.7,424.1 L480.2,425.3 L482.1,425.9 L484.0,424.4 L485.5,425.7 L487.1,425.7 L488.7,425.9 L489.6,428.4 L490.9,423.4 L491.8,428.4 L493.4,429.5 L495.0,430.3 L496.5,431.6 L497.8,433.2 L499.0,429.5 L500.3,432.2 L501.5,432.0 L502.8,434.5 L504.1,435.4 L505.6,435.0 L507.2,434.5 L508.4,436.6 L510.1,437.9 L511.3,439.8 L512.2,442.9 L513.1,439.1 L514.7,438.5 L516.9,438.2 L518.8,437.4 L520.3,439.7 L521.9,438.2 L523.5,436.5 L525.0,437.8 L526.9,439.0 L528.2,440.9 L529.4,442.8 L530.7,441.6 L532.0,439.7 L533.2,438.2 L534.8,438.4 L535.7,438.2 L537.0,442.2 L538.2,440.3 L539.5,440.7 L540.7,438.7 L542.4,438.2 L543.6,439.9 L544.9,442.8 L546.1,444.1 L547.4,441.6 L548.3,439.4 L549.5,443.4 L550.8,440.9 L551.7,439.9 L552.9,440.7 L554.5,438.4 L556.2,438.2 L557.4,438.4 L558.9,435.3 L560.0,436.5 L561.2,433.1 L562.7,434.0 L564.2,434.9 L565.9,436.1 L567.1,434.4 L568.4,436.1 L569.6,437.4 L571.2,435.3 L572.8,435.6 L574.3,436.1 L575.9,435.6 L577.1,437.4 L578.4,436.5 L579.7,438.2 L580.9,437.8 L582.2,438.7 L583.4,438.2 L584.7,439.4 L585.9,440.3 L587.2,442.2 L588.1,439.9 L589.3,442.8 L590.6,440.9 L591.8,438.4 L593.1,436.5 L594.7,434.9 L596.9,435.7 L598.5,431.9 L599.8,432.8 L601.3,430.7 L602.5,431.6 L604.0,430.3 L605.7,429.4 L607.3,429.0 L609.1,428.4 L611.1,428.2 L612.3,429.9 L613.6,431.9 L615.1,432.4 L616.1,429.7 L617.0,430.9 L618.2,428.2 L619.5,430.3 L621.1,431.2 L622.6,431.9 L624.1,429.0 L625.8,431.2 L627.4,432.8 L628.9,430.7 L630.4,430.9 L632.0,431.6 L633.3,430.3 L634.5,428.4 L635.8,430.7 L637.4,428.2 L638.3,429.4 L639.6,424.9 L641.2,426.5 L642.7,428.4 L644.0,425.6 L645.2,425.3 L646.5,421.5 L647.7,419.4 L649.0,421.5 L650.9,419.6 L652.5,422.1 L653.4,421.5 L655.0,423.4 L656.3,422.8 L657.1,420.6"/>
<path class="med" d="M118.8,481.2 L120.0,480.0 L121.5,482.1 L122.8,481.2 L124.4,480.2 L126.0,477.7 L127.5,478.7 L129.1,478.7 L130.7,479.6 L131.9,478.7 L133.2,477.1 L134.5,479.0 L135.7,480.2 L137.0,481.5 L138.2,480.2 L139.5,480.9 L141.1,481.7 L142.6,479.6 L144.1,479.0 L144.9,481.5 L145.8,478.3 L147.0,477.1 L148.3,479.6 L149.5,480.9 L150.5,482.7 L151.7,478.3 L153.3,479.0 L154.9,478.3 L156.4,477.1 L157.7,482.5 L158.9,479.6 L160.4,480.5 L162.1,481.5 L163.7,480.9 L165.0,478.3 L166.5,478.0 L167.7,478.3 L169.2,477.5 L170.9,475.4 L172.1,474.9 L173.4,473.9 L174.3,475.4 L175.5,471.4 L176.8,470.4 L178.4,470.8 L179.7,471.2 L181.3,470.2 L183.4,469.2 L184.7,470.8 L185.9,473.3 L187.2,470.4 L188.4,470.8 L189.7,468.9 L190.6,467.4 L191.8,469.2 L193.8,470.8 L195.0,467.1 L196.3,465.0 L198.1,463.7 L200.0,463.4 L201.9,463.7 L203.5,464.0 L205.0,461.2 L206.3,460.9 L207.6,463.0 L209.1,461.5 L210.3,461.2 L211.3,462.7 L212.6,455.2 L214.1,454.6 L215.1,454.9 L216.1,457.5 L217.3,454.6 L218.6,456.7 L220.1,457.1 L221.6,456.4 L223.2,455.8 L224.9,456.2 L226.4,454.2 L227.4,453.9 L228.7,457.1 L229.9,452.9 L231.2,453.7 L232.4,455.8 L233.9,454.9 L235.2,454.2 L237.1,454.9 L238.9,454.6 L240.8,452.4 L242.1,453.3 L244.0,452.7 L245.8,451.4 L247.1,452.4 L248.0,454.2 L249.6,450.4 L251.2,449.6 L252.5,448.7 L253.8,449.6 L255.0,450.8 L256.5,448.7 L257.5,449.2 L258.8,450.2 L259.7,451.2 L261.5,448.7 L262.8,451.4 L264.1,453.7 L265.3,455.2 L266.6,455.8 L267.8,455.4 L269.3,456.4 L271.0,457.1 L272.6,458.0 L274.1,458.3 L275.0,458.4 L276.5,455.9 L278.1,455.2 L279.8,454.2 L281.3,452.7 L282.5,454.6 L283.8,454.0 L285.0,453.7 L286.3,451.2 L287.3,449.2 L288.8,450.5 L290.3,450.9 L291.9,451.7 L293.2,449.6 L294.5,448.7 L295.7,450.2 L297.0,451.2 L298.6,450.0 L300.1,450.5 L301.4,452.5 L302.4,452.7 L303.6,450.0 L305.1,449.6 L306.6,449.2 L308.3,448.7 L309.9,447.1 L311.4,446.7 L312.7,444.2 L313.9,444.9 L315.2,443.9 L316.7,444.9 L318.3,445.8 L319.9,446.2 L321.7,446.2 L323.0,445.2 L324.0,444.2 L325.2,445.4 L326.7,445.8 L327.7,446.7 L328.7,447.7 L329.6,445.2 L331.2,444.9 L332.8,445.2 L334.3,444.6 L335.3,447.1 L336.5,447.5 L337.8,448.7 L339.3,449.2 L340.5,450.0 L342.2,450.5 L343.4,451.7 L344.7,449.0 L345.9,451.7 L347.6,450.5 L349.1,448.3 L350.6,445.4 L351.8,447.5 L353.1,448.3 L354.7,445.4 L356.5,446.4 L357.8,443.9 L359.0,443.3 L360.0,440.8 L361.3,442.7 L362.5,442.4 L363.8,444.9 L365.0,443.3 L366.3,442.1 L367.6,443.3 L368.8,443.9 L370.3,441.7 L371.9,444.2 L373.6,444.6 L375.1,444.9 L376.6,444.9 L378.2,445.8 L379.5,448.3 L380.7,450.5 L382.4,449.6 L383.6,448.3 L384.5,447.1 L385.8,450.2 L387.0,450.5 L388.6,451.5 L390.4,449.2 L392.0,450.9 L393.7,452.5 L395.2,449.6 L396.4,451.2 L398.3,452.1 L399.9,452.7 L401.7,453.0 L403.3,455.2 L404.6,454.2 L406.5,454.6 L407.7,456.5 L409.0,457.8 L410.9,456.5 L412.8,454.6 L414.6,454.6 L416.5,454.6 L418.4,454.6 L419.7,453.4 L420.9,455.2 L422.8,458.4 L424.1,458.8 L425.6,457.8 L427.2,460.0 L429.1,461.3 L430.3,462.1 L431.8,460.9 L433.8,461.5 L435.0,463.3 L436.3,465.8 L438.1,466.4 L439.8,464.5 L441.0,462.6 L442.5,464.1 L444.4,464.5 L446.3,464.9 L448.2,465.4 L449.8,466.7 L451.3,464.5 L452.6,466.2 L454.1,468.3 L455.7,468.9 L457.0,467.4 L458.6,468.9 L459.9,469.9 L460.7,470.8 L462.0,468.7 L463.6,469.6 L465.1,469.9 L466.4,469.2 L467.6,472.1 L469.1,473.7 L470.8,474.9 L472.4,475.2 L473.9,474.6 L475.4,474.6 L476.4,477.7 L477.1,480.9 L478.7,483.4 L480.2,484.6 L482.1,485.2 L484.0,483.7 L485.5,485.0 L487.1,485.0 L488.7,485.2 L489.6,487.8 L490.9,482.7 L491.8,487.8 L493.4,488.8 L495.0,489.6 L496.5,490.9 L497.8,492.5 L499.0,488.8 L500.3,491.5 L501.5,491.3 L502.8,493.8 L504.1,494.7 L505.6,494.3 L507.2,493.8 L508.4,495.9 L510.1,497.2 L511.3,499.1 L512.2,502.2 L513.1,498.4 L514.7,497.8 L516.9,497.5 L518.8,496.7 L520.3,499.0 L521.9,497.5 L523.5,495.8 L525.0,497.1 L526.9,498.3 L528.2,500.2 L529.4,502.1 L530.7,500.9 L532.0,499.0 L533.2,497.5 L534.8,497.7 L535.7,497.5 L537.0,501.5 L538.2,499.6 L539.5,500.0 L540.7,498.0 L542.4,497.5 L543.6,499.2 L544.9,502.1 L546.1,503.4 L547.4,500.9 L548.3,498.7 L549.5,502.7 L550.8,500.2 L551.7,499.2 L552.9,500.0 L554.5,497.7 L556.2,497.5 L557.4,497.7 L558.9,494.6 L560.0,495.8 L561.2,492.4 L562.7,493.3 L564.2,494.2 L565.9,495.4 L567.1,493.7 L568.4,495.4 L569.6,496.7 L571.2,494.6 L572.8,494.9 L574.3,495.4 L575.9,494.9 L577.1,496.7 L578.4,495.8 L579.7,497.5 L580.9,497.1 L582.2,498.0 L583.4,497.5 L584.7,498.7 L585.9,499.6 L587.2,501.5 L588.1,499.2 L589.3,502.1 L590.6,500.2 L591.8,497.7 L593.1,495.8 L594.7,494.2 L596.9,495.0 L598.5,491.2 L599.8,492.1 L601.3,490.0 L602.5,490.9 L604.0,489.6 L605.7,488.7 L607.3,488.3 L609.1,487.7 L611.1,487.5 L612.3,489.2 L613.6,491.2 L615.1,491.7 L616.1,489.0 L617.0,490.2 L618.2,487.5 L619.5,489.6 L621.1,490.5 L622.6,491.2 L624.1,488.3 L625.8,490.5 L627.4,492.1 L628.9,490.0 L630.4,490.2 L632.0,490.9 L633.3,489.6 L634.5,487.7 L635.8,490.0 L637.4,487.5 L638.3,488.7 L639.6,484.2 L641.2,485.8 L642.7,487.7 L644.0,484.9 L645.2,484.6 L646.5,480.8 L647.7,478.7 L649.0,480.8 L650.9,478.9 L652.5,481.4 L653.4,480.8 L655.0,482.7 L656.3,482.1 L657.1,479.9"/>
<path class="pct" stroke-dasharray="1.9 4.2" d="M118.8,541.4 L120.0,540.2 L121.5,542.3 L122.8,541.4 L124.4,540.4 L126.0,537.9 L127.5,538.9 L129.1,538.9 L130.7,539.8 L131.9,538.9 L133.2,537.3 L134.5,539.2 L135.7,540.4 L137.0,541.7 L138.2,540.4 L139.5,541.1 L141.1,541.9 L142.6,539.8 L144.1,539.2 L144.9,541.7 L145.8,538.5 L147.0,537.3 L148.3,539.8 L149.5,541.1 L150.5,542.9 L151.7,538.5 L153.3,539.2 L154.9,538.5 L156.4,537.3 L157.7,542.7 L158.9,539.8 L160.4,540.7 L162.1,541.7 L163.7,541.1 L165.0,538.5 L166.5,538.2 L167.7,538.5 L169.2,537.7 L170.9,535.6 L172.1,535.1 L173.4,534.1 L174.3,535.6 L175.5,531.6 L176.8,530.6 L178.4,531.0 L179.7,531.4 L181.3,530.4 L183.4,529.4 L184.7,531.0 L185.9,533.5 L187.2,530.6 L188.4,531.0 L189.7,529.1 L190.6,527.6 L191.8,529.4 L193.8,531.0 L195.0,527.3 L196.3,525.2 L198.1,523.9 L200.0,523.6 L201.9,523.9 L203.5,524.2 L205.0,521.4 L206.3,521.1 L207.6,523.2 L209.1,521.7 L210.3,521.4 L211.3,522.9 L212.6,515.4 L214.1,514.8 L215.1,515.1 L216.1,517.7 L217.3,514.8 L218.6,516.9 L220.1,517.3 L221.6,516.6 L223.2,516.0 L224.9,516.4 L226.4,514.4 L227.4,514.1 L228.7,517.3 L229.9,513.1 L231.2,513.9 L232.4,516.0 L233.9,515.1 L235.2,514.4 L237.1,515.1 L238.9,514.8 L240.8,512.6 L242.1,513.5 L244.0,512.9 L245.8,511.6 L247.1,512.6 L248.0,514.4 L249.6,510.6 L251.2,509.8 L252.5,508.9 L253.8,509.8 L255.0,511.0 L256.5,508.9 L257.5,509.4 L258.8,510.4 L259.7,511.4 L261.5,508.9 L262.8,511.6 L264.1,513.9 L265.3,515.4 L266.6,516.0 L267.8,515.6 L269.3,516.6 L271.0,517.3 L272.6,518.2 L274.1,518.5 L275.0,518.6 L276.5,516.1 L278.1,515.4 L279.8,514.4 L281.3,512.9 L282.5,514.8 L283.8,514.2 L285.0,513.9 L286.3,511.4 L287.3,509.4 L288.8,510.7 L290.3,511.1 L291.9,511.9 L293.2,509.8 L294.5,508.9 L295.7,510.4 L297.0,511.4 L298.6,510.2 L300.1,510.7 L301.4,512.7 L302.4,512.9 L303.6,510.2 L305.1,509.8 L306.6,509.4 L308.3,508.9 L309.9,507.3 L311.4,506.9 L312.7,504.4 L313.9,505.1 L315.2,504.1 L316.7,505.1 L318.3,506.0 L319.9,506.4 L321.7,506.4 L323.0,505.4 L324.0,504.4 L325.2,505.6 L326.7,506.0 L327.7,506.9 L328.7,507.9 L329.6,505.4 L331.2,505.1 L332.8,505.4 L334.3,504.8 L335.3,507.3 L336.5,507.7 L337.8,508.9 L339.3,509.4 L340.5,510.2 L342.2,510.7 L343.4,511.9 L344.7,509.2 L345.9,511.9 L347.6,510.7 L349.1,508.5 L350.6,505.6 L351.8,507.7 L353.1,508.5 L354.7,505.6 L356.5,506.6 L357.8,504.1 L359.0,503.5 L360.0,501.0 L361.3,502.9 L362.5,502.6 L363.8,505.1 L365.0,503.5 L366.3,502.3 L367.6,503.5 L368.8,504.1 L370.3,501.9 L371.9,504.4 L373.6,504.8 L375.1,505.1 L376.6,505.1 L378.2,506.0 L379.5,508.5 L380.7,510.7 L382.4,509.8 L383.6,508.5 L384.5,507.3 L385.8,510.4 L387.0,510.7 L388.6,511.7 L390.4,509.4 L392.0,511.1 L393.7,512.7 L395.2,509.8 L396.4,511.4 L398.3,512.3 L399.9,512.9 L401.7,513.2 L403.3,515.4 L404.6,514.4 L406.5,514.8 L407.7,516.7 L409.0,518.0 L410.9,516.7 L412.8,514.8 L414.6,514.8 L416.5,514.8 L418.4,514.8 L419.7,513.6 L420.9,515.4 L422.8,518.6 L424.1,519.0 L425.6,518.0 L427.2,520.2 L429.1,521.5 L430.3,522.4 L431.8,521.1 L433.8,521.7 L435.0,523.5 L436.3,526.0 L438.1,526.6 L439.8,524.7 L441.0,522.8 L442.5,524.4 L444.4,524.7 L446.3,525.1 L448.2,525.6 L449.8,526.9 L451.3,524.7 L452.6,526.4 L454.1,528.5 L455.7,529.1 L457.0,527.6 L458.6,529.1 L459.9,530.1 L460.7,531.0 L462.0,528.9 L463.6,529.8 L465.1,530.1 L466.4,529.4 L467.6,532.3 L469.1,533.9 L470.8,535.1 L472.4,535.4 L473.9,534.8 L475.4,534.8 L476.4,537.9 L477.1,541.1 L478.7,543.6 L480.2,544.8 L482.1,545.4 L484.0,543.9 L485.5,545.2 L487.1,545.2 L488.7,545.4 L489.6,548.0 L490.9,542.9 L491.8,548.0 L493.4,549.0 L495.0,549.8 L496.5,551.1 L497.8,552.7 L499.0,549.0 L500.3,551.7 L501.5,551.5 L502.8,554.0 L504.1,554.9 L505.6,554.5 L507.2,554.0 L508.4,556.1 L510.1,557.4 L511.3,559.2 L512.2,562.4 L513.1,558.6 L514.7,558.0 L516.9,557.7 L518.8,556.9 L520.3,559.2 L521.9,557.7 L523.5,556.0 L525.0,557.3 L526.9,558.5 L528.2,560.4 L529.4,562.3 L530.7,561.1 L532.0,559.2 L533.2,557.7 L534.8,557.9 L535.7,557.7 L537.0,561.7 L538.2,559.8 L539.5,560.2 L540.7,558.2 L542.4,557.7 L543.6,559.4 L544.9,562.3 L546.1,563.6 L547.4,561.1 L548.3,558.9 L549.5,562.9 L550.8,560.4 L551.7,559.4 L552.9,560.2 L554.5,557.9 L556.2,557.7 L557.4,557.9 L558.9,554.8 L560.0,556.0 L561.2,552.6 L562.7,553.5 L564.2,554.4 L565.9,555.6 L567.1,553.9 L568.4,555.6 L569.6,556.9 L571.2,554.8 L572.8,555.1 L574.3,555.6 L575.9,555.1 L577.1,556.9 L578.4,556.0 L579.7,557.7 L580.9,557.3 L582.2,558.2 L583.4,557.7 L584.7,558.9 L585.9,559.8 L587.2,561.7 L588.1,559.4 L589.3,562.3 L590.6,560.4 L591.8,557.9 L593.1,556.0 L594.7,554.4 L596.9,555.2 L598.5,551.4 L599.8,552.3 L601.3,550.2 L602.5,551.1 L604.0,549.8 L605.7,548.9 L607.3,548.5 L609.1,547.9 L611.1,547.7 L612.3,549.4 L613.6,551.4 L615.1,551.9 L616.1,549.2 L617.0,550.4 L618.2,547.7 L619.5,549.8 L621.1,550.7 L622.6,551.4 L624.1,548.5 L625.8,550.7 L627.4,552.3 L628.9,550.2 L630.4,550.4 L632.0,551.1 L633.3,549.8 L634.5,547.9 L635.8,550.2 L637.4,547.7 L638.3,548.9 L639.6,544.4 L641.2,546.0 L642.7,547.9 L644.0,545.1 L645.2,544.8 L646.5,541.0 L647.7,538.9 L649.0,541.0 L650.9,539.1 L652.5,541.6 L653.4,541.0 L655.0,542.9 L656.3,542.3 L657.1,540.1"/>
</svg>
</body></html>
